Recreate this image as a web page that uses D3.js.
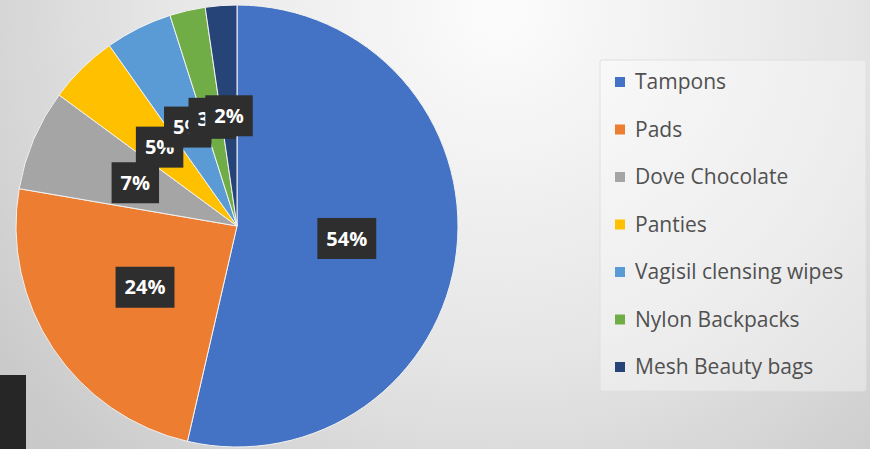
<!DOCTYPE html>
<html>
<head>
<meta charset="utf-8">
<script src="https://cdn.jsdelivr.net/npm/d3@7"></script>
<style>
  html, body { margin: 0; padding: 0; }
  body { width: 870px; height: 449px; overflow: hidden; }
</style>
</head>
<body>
<svg id="chart" width="870" height="449"></svg>
<script>
const categories = ["Tampons", "Pads", "Dove Chocolate", "Panties", "Vagisil clensing wipes", "Nylon Backpacks", "Mesh Beauty bags"];
const values = [53.6, 24.1, 7.4, 5.1, 4.9, 2.6, 2.3];
const colors = ["#4472C4", "#ED7D31", "#A5A5A5", "#FFC000", "#5B9BD5", "#70AD47", "#264478"];

const svg = d3.select("#chart");
const W = 870, H = 449;

// background gradient
const defs = svg.append("defs");
const bg = defs.append("radialGradient").attr("id", "bg")
  .attr("gradientUnits", "userSpaceOnUse")
  .attr("cx", 500).attr("cy", 10).attr("r", 620);
bg.append("stop").attr("offset", "0%").attr("stop-color", "#fcfcfc");
bg.append("stop").attr("offset", "55%").attr("stop-color", "#e6e6e6");
bg.append("stop").attr("offset", "100%").attr("stop-color", "#c9c9c9");
svg.append("rect").attr("width", W).attr("height", H).attr("fill", "url(#bg)");

// dark block bottom-left
svg.append("rect").attr("x", 0).attr("y", 375).attr("width", 26).attr("height", 74).attr("fill", "#262626");

const cx = 237, cy = 226, R = 221;
const total = d3.sum(values);
const pie = d3.pie().sort(null).value(d => d.v);
const data = pie(categories.map((c, i) => ({ c, v: values[i], col: colors[i] })));
const arc = d3.arc().innerRadius(0).outerRadius(R);

const g = svg.append("g").attr("transform", `translate(${cx},${cy})`);
g.selectAll("path.slice").data(data).join("path")
  .attr("class", "slice")
  .attr("d", arc)
  .attr("fill", d => d.data.col)
  .attr("stroke", "#f2f2f2")
  .attr("stroke-width", 1);

// data labels
const lab = g.selectAll("g.lab").data(data).join("g")
  .attr("class", "lab")
  .attr("transform", d => { const [x, y] = arc.centroid(d); return `translate(${x},${y})`; });
lab.each(function(d) {
  const sel = d3.select(this);
  const txt = Math.round(d.data.v / total * 100) + "%";
  const rect = sel.append("rect").attr("fill", "#2e2e2e");
  const t = sel.append("text")
    .attr("text-anchor", "middle")
    .attr("dy", "0.36em")
    .attr("fill", "#ffffff")
    .attr("font-family", "'Open Sans', sans-serif")
    .attr("font-weight", "bold")
    .attr("font-size", 20)
    .text(txt);
  const bb = t.node().getBBox();
  const pw = 9, ph = 41;
  rect.attr("x", -bb.width / 2 - pw).attr("y", -ph / 2)
    .attr("width", bb.width + 2 * pw).attr("height", ph);
});

// legend
const lg = svg.append("g");
lg.append("rect").attr("x", 600).attr("y", 60).attr("width", 266).attr("height", 331)
  .attr("fill", "#ffffff").attr("fill-opacity", 0.35)
  .attr("stroke", "#e0e0e0").attr("stroke-width", 1).attr("rx", 2);
const ly = d3.scalePoint().domain(categories).range([82, 367]);
const items = lg.selectAll("g.item").data(data).join("g")
  .attr("class", "item")
  .attr("transform", d => `translate(615,${ly(d.data.c)})`);
items.append("rect").attr("x", 0).attr("y", -5).attr("width", 10).attr("height", 10)
  .attr("fill", d => d.data.col);
items.append("text").attr("x", 20).attr("dy", "0.35em")
  .attr("fill", "#505050")
  .attr("font-family", "'Open Sans', sans-serif")
  .attr("font-size", 21)
  .text(d => d.data.c);
</script>
</body>
</html>
